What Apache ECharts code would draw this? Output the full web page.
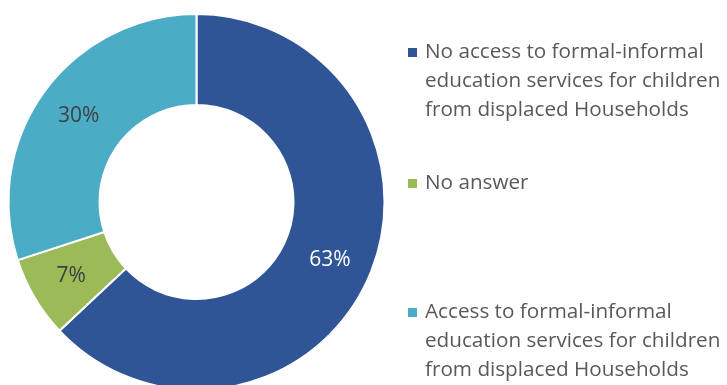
<!DOCTYPE html>
<html>
<head>
<meta charset="utf-8">
<script src="https://cdn.jsdelivr.net/npm/echarts@6/dist/echarts.min.js"></script>
<style>html,body{margin:0;padding:0;background:#fff;}#c{width:727px;height:385px;}</style>
</head>
<body>
<div id="c"></div>
<script>
var categories = [
  'No access to formal-informal education services for children from displaced Households',
  'No answer',
  'Access to formal-informal education services for children from displaced Households'
];
var legendLines = [
  ['No access to formal-informal', 'education services for children', 'from displaced Households'],
  ['No answer'],
  ['Access to formal-informal', 'education services for children', 'from displaced Households']
];
var values = [63, 7, 30];
var colors = ['#2F5597', '#9BBB59', '#4BACC6'];
var labelColors = ['#ffffff', '#404040', '#404040'];
var legendTops = [33, 164, 293];

var chart = echarts.init(document.getElementById('c'), null, {renderer: 'canvas'});

var legends = categories.map(function (name, i) {
  var rich = { ind: { width: 17, height: 9 }, sp: { width: 8, height: 9 } };
  rich['sq' + i] = { width: 9, height: 9, backgroundColor: colors[i], verticalAlign: 'middle' };
  return {
    data: [name],
    orient: 'vertical',
    left: 398,
    top: legendTops[i],
    icon: 'none',
    itemWidth: 0,
    itemHeight: 0,
    selectedMode: false,
    formatter: function () {
      var lines = legendLines[i];
      return lines.map(function (l, k) {
        return (k === 0 ? '{sq' + i + '|}{sp|}' : '{ind|}') + l;
      }).join('\n');
    },
    textStyle: {
      fontFamily: 'Open Sans',
      fontSize: 20.7,
      lineHeight: 29,
      color: '#595959',
      rich: rich
    }
  };
});

chart.setOption({
  animation: false,
  backgroundColor: '#ffffff',
  legend: legends,
  series: [{
    type: 'pie',
    center: [196.5, 202],
    radius: [97, 188],
    startAngle: 90,
    clockwise: true,
    avoidLabelOverlap: false,
    itemStyle: { borderColor: '#ffffff', borderWidth: 2 },
    label: {
      show: true,
      position: 'inside',
      formatter: '{c}%',
      fontFamily: 'Open Sans',
      fontSize: 21
    },
    labelLine: { show: false },
    emphasis: { disabled: true },
    data: categories.map(function (name, i) {
      return {
        name: name,
        value: values[i],
        itemStyle: { color: colors[i] },
        label: { color: labelColors[i] }
      };
    })
  }]
});
</script>
</body>
</html>
